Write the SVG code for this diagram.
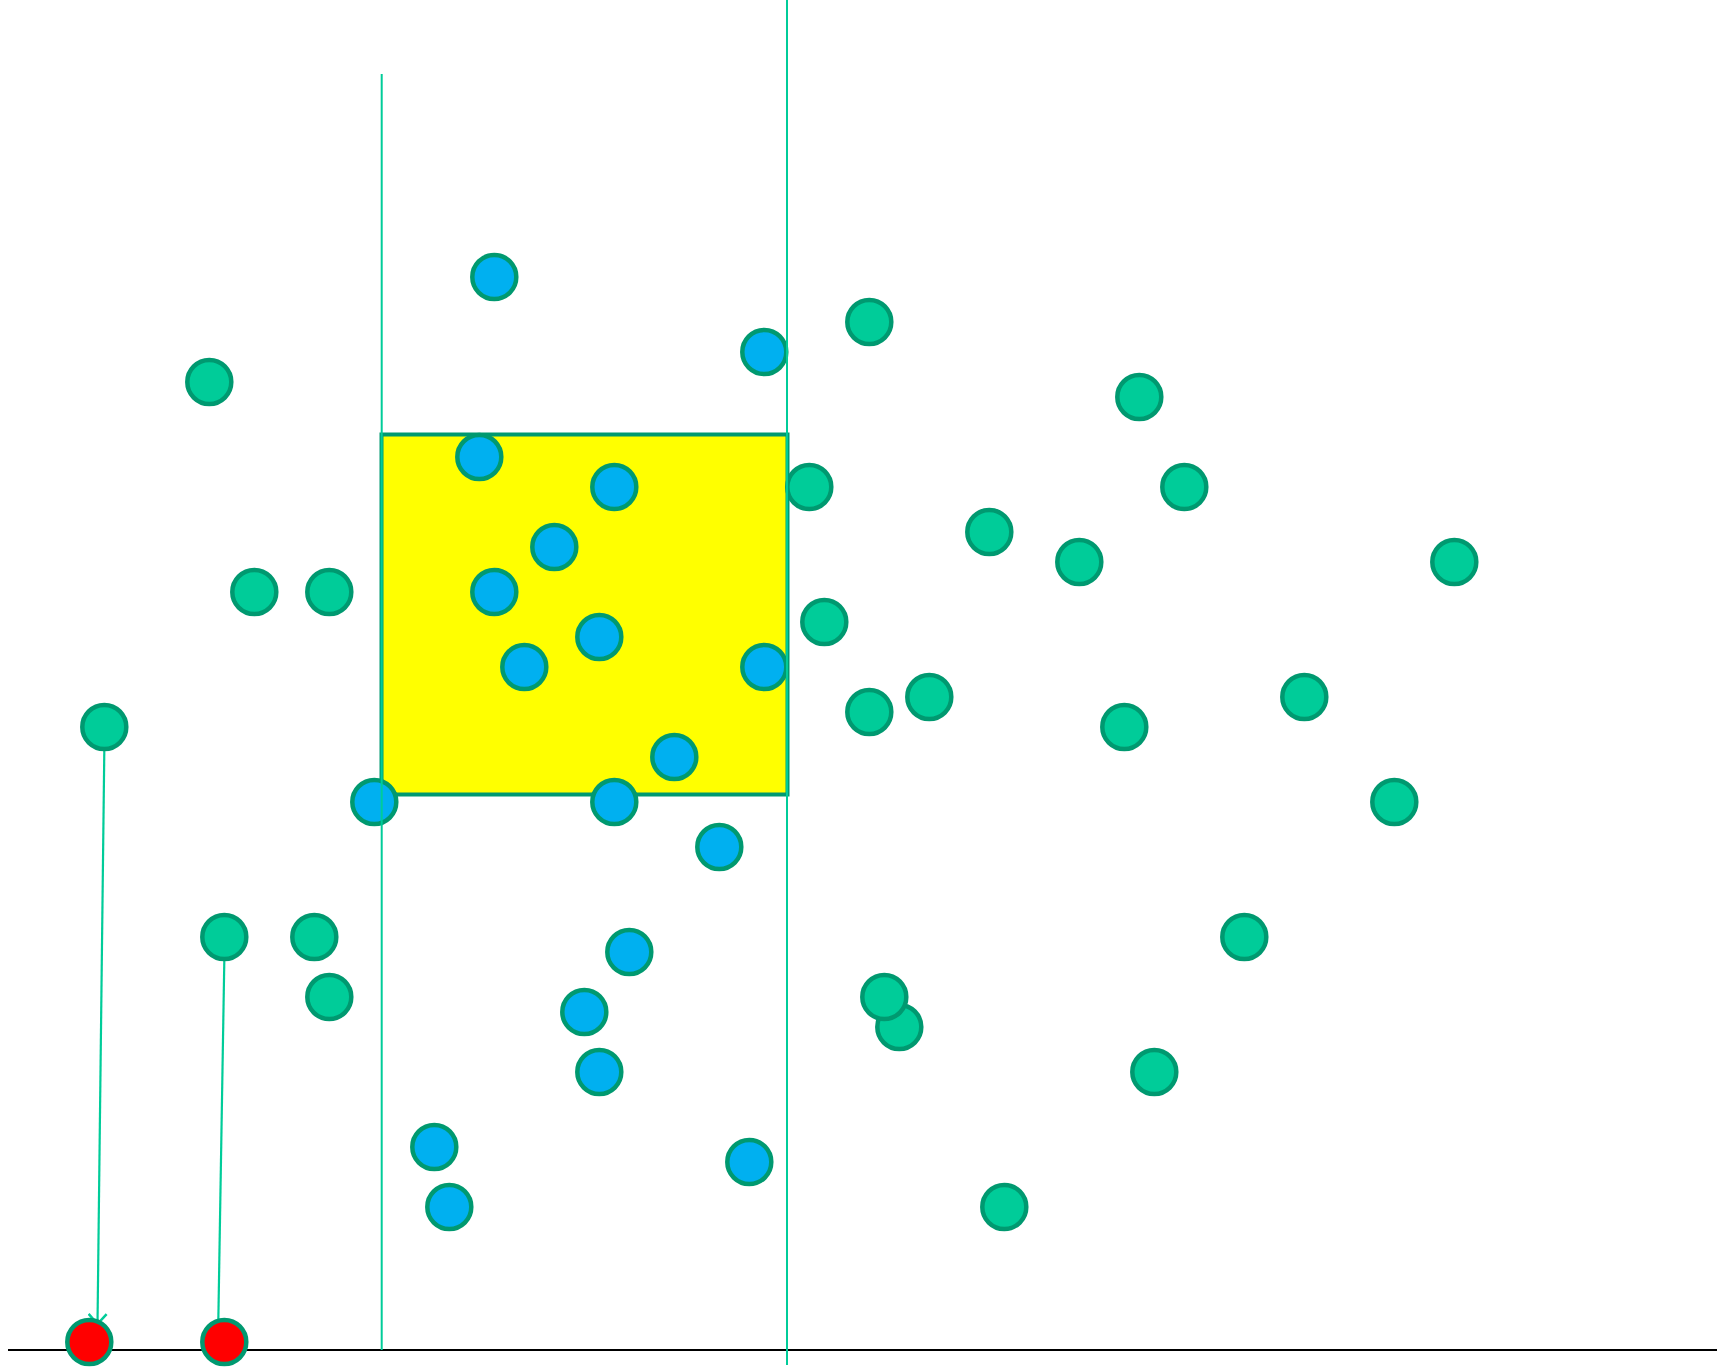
<svg xmlns="http://www.w3.org/2000/svg" width="1733" height="1368" viewBox="0 0 1733 1368">
<style>
.b{fill:#00B0F0;stroke:#009970;stroke-width:4.5}
.g{fill:#00CC99;stroke:#009970;stroke-width:4.5}
.r{fill:#FF0000;stroke:#009970;stroke-width:4.5}
.guide{stroke:#00CC99;stroke-width:2;fill:none}
.conn{stroke:#00CC99;stroke-width:2.2;fill:none}
</style>
<defs>
<marker id="arr" viewBox="0 0 12 20" refX="11" refY="10" markerWidth="12" markerHeight="20" markerUnits="userSpaceOnUse" orient="auto">
<path d="M1,1 L11,10 L1,19" fill="none" stroke="#00CC99" stroke-width="2.5"/>
</marker>
</defs>
<rect width="1733" height="1368" fill="#ffffff"/>
<line x1="8" y1="1350" x2="1717" y2="1350" stroke="#000000" stroke-width="2"/>
<g id="region"><rect x="381.5" y="434.5" width="406" height="360" fill="#FFFF00" stroke="#009970" stroke-width="4"/></g>
<g id="connectors">
<line class="conn" x1="104.3" y1="751" x2="97.5" y2="1324" marker-end="url(#arr)"/>
<line class="conn" x1="224.3" y1="961" x2="218.3" y2="1322"/>
</g>
<g id="blue">
<circle id="b1" class="b" cx="494.3" cy="277" r="22"/>
<circle id="b2" class="b" cx="764.3" cy="352" r="22"/>
<circle id="b3" class="b" cx="479.3" cy="457" r="22"/>
<circle id="b4" class="b" cx="614.3" cy="487" r="22"/>
<circle id="b5" class="b" cx="554.3" cy="547" r="22"/>
<circle id="b6" class="b" cx="494.3" cy="592" r="22"/>
<circle id="b7" class="b" cx="599.3" cy="637" r="22"/>
<circle id="b8" class="b" cx="524.3" cy="667" r="22"/>
<circle id="b9" class="b" cx="764.3" cy="667" r="22"/>
<circle id="b10" class="b" cx="674.3" cy="757" r="22"/>
<circle id="b11" class="b" cx="374.3" cy="802" r="22"/>
<circle id="b12" class="b" cx="614.3" cy="802" r="22"/>
<circle id="b13" class="b" cx="719.3" cy="847" r="22"/>
<circle id="b14" class="b" cx="629.3" cy="952" r="22"/>
<circle id="b15" class="b" cx="584.3" cy="1012" r="22"/>
<circle id="b16" class="b" cx="599.3" cy="1072" r="22"/>
<circle id="b17" class="b" cx="434.3" cy="1147" r="22"/>
<circle id="b18" class="b" cx="449.3" cy="1207" r="22"/>
<circle id="b19" class="b" cx="749.3" cy="1162" r="22"/>
</g>
<g id="green">
<circle id="g1" class="g" cx="209.3" cy="382" r="22"/>
<circle id="g2" class="g" cx="869.3" cy="322" r="22"/>
<circle id="g3" class="g" cx="1139.3" cy="397" r="22"/>
<circle id="g4" class="g" cx="809.3" cy="487" r="22"/>
<circle id="g5" class="g" cx="1184.3" cy="487" r="22"/>
<circle id="g6" class="g" cx="989.3" cy="532" r="22"/>
<circle id="g7" class="g" cx="1079.3" cy="562" r="22"/>
<circle id="g8" class="g" cx="1454.3" cy="562" r="22"/>
<circle id="g9" class="g" cx="254.3" cy="592" r="22"/>
<circle id="g10" class="g" cx="329.3" cy="592" r="22"/>
<circle id="g11" class="g" cx="824.3" cy="622" r="22"/>
<circle id="g12" class="g" cx="869.3" cy="712" r="22"/>
<circle id="g13" class="g" cx="929.3" cy="697" r="22"/>
<circle id="g14" class="g" cx="1124.3" cy="727" r="22"/>
<circle id="g15" class="g" cx="1304.3" cy="697" r="22"/>
<circle id="g16" class="g" cx="104.3" cy="727" r="22"/>
<circle id="g17" class="g" cx="1394.3" cy="802" r="22"/>
<circle id="g18" class="g" cx="224.3" cy="937" r="22"/>
<circle id="g19" class="g" cx="314.3" cy="937" r="22"/>
<circle id="g20" class="g" cx="329.3" cy="997" r="22"/>
<circle id="g21" class="g" cx="1244.3" cy="937" r="22"/>
<circle id="g23" class="g" cx="899.3" cy="1027" r="22"/>
<circle id="g22" class="g" cx="884.3" cy="997" r="22"/>
<circle id="g24" class="g" cx="1154.3" cy="1072" r="22"/>
<circle id="g25" class="g" cx="1004.3" cy="1207" r="22"/>
</g>
<g id="red">
<circle id="r1" class="r" cx="89.3" cy="1342" r="22"/>
<circle id="r2" class="r" cx="224.3" cy="1342" r="22"/>
</g>
<g id="guides">
<line class="guide" x1="381.7" y1="74" x2="381.7" y2="1350"/>
<line class="guide" x1="787" y1="0" x2="787" y2="1365"/>
</g>
</svg>
